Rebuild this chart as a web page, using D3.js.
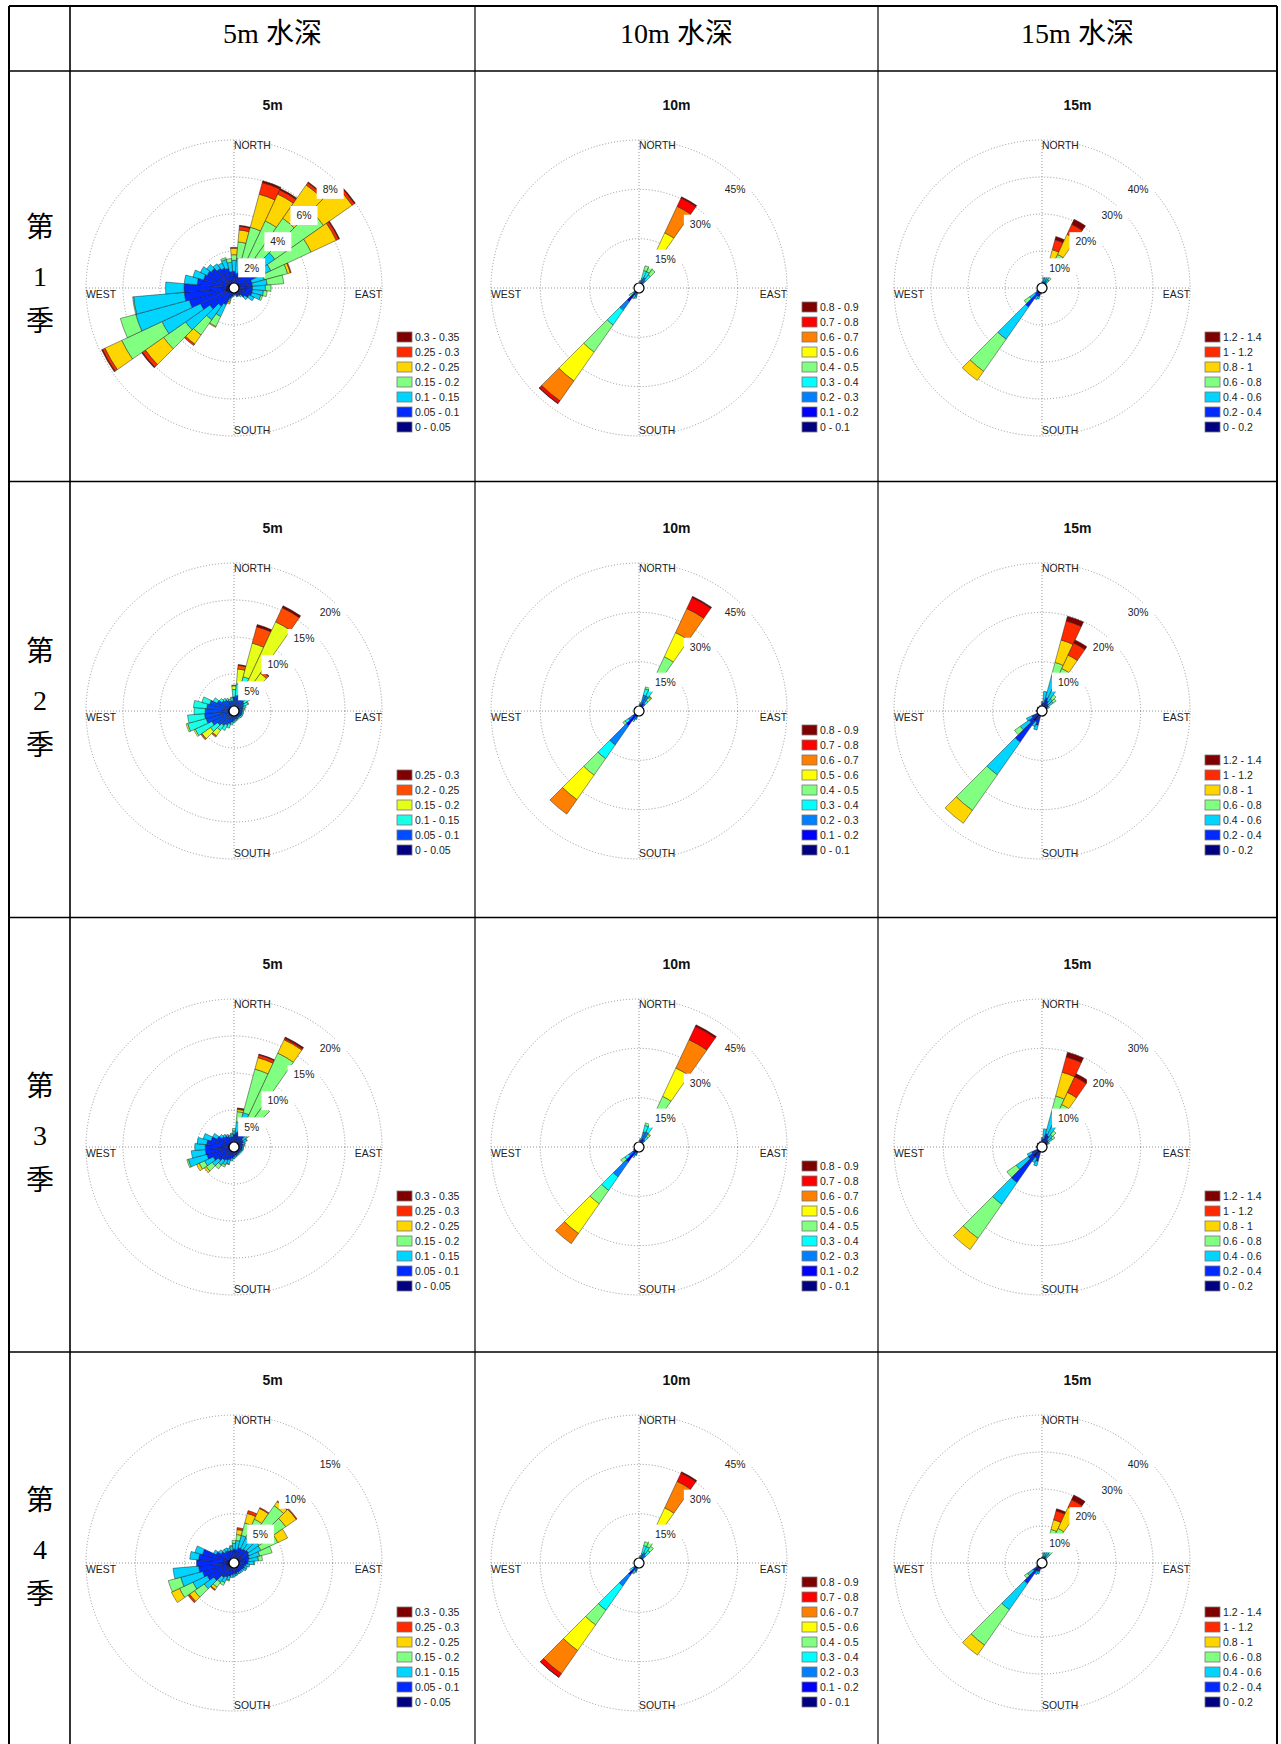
<!DOCTYPE html>
<html lang="zh">
<head>
<meta charset="UTF-8">
<title>各季各水深流况玫瑰图</title>
<script src="https://cdn.jsdelivr.net/npm/d3@7"></script>
<style>
  body { margin: 0; background: #fff; }
  svg { display: block; }
  .head { font-family: "Liberation Serif", "Noto Sans CJK SC", serif; font-size: 28px; fill: #000; }
  .title { font-family: "Liberation Sans", Arial, sans-serif; font-size: 14px; font-weight: bold; fill: #111; }
  .compass, .ringlab { font-family: "Liberation Sans", Arial, sans-serif; font-size: 10.4px; fill: #222; }
  .legend text { font-family: "Liberation Sans", Arial, sans-serif; font-size: 10.5px; fill: #222; }
</style>
</head>
<body>
<svg id="chart" width="1281" height="1744"></svg>
<script>
// ---- data ----
const columnHeads = ["5m 水深", "10m 水深", "15m 水深"];
const depthTitles = ["5m", "10m", "15m"];
const seasonNums = ["1", "2", "3", "4"];

const bins5m = ["0 - 0.05", "0.05 - 0.1", "0.1 - 0.15", "0.15 - 0.2", "0.2 - 0.25", "0.25 - 0.3", "0.3 - 0.35"];
const bins5mS2 = ["0 - 0.05", "0.05 - 0.1", "0.1 - 0.15", "0.15 - 0.2", "0.2 - 0.25", "0.25 - 0.3"];
const bins10m = ["0 - 0.1", "0.1 - 0.2", "0.2 - 0.3", "0.3 - 0.4", "0.4 - 0.5", "0.5 - 0.6", "0.6 - 0.7", "0.7 - 0.8", "0.8 - 0.9"];
const bins15m = ["0 - 0.2", "0.2 - 0.4", "0.4 - 0.6", "0.6 - 0.8", "0.8 - 1", "1 - 1.2", "1.2 - 1.4"];

// ring ticks (%), last one is the outer circle
const ticks = [
  [[2, 4, 6, 8], [15, 30, 45], [10, 20, 30, 40]],
  [[5, 10, 15, 20], [15, 30, 45], [10, 20, 30]],
  [[5, 10, 15, 20], [15, 30, 45], [10, 20, 30]],
  [[5, 10, 15], [15, 30, 45], [10, 20, 30, 40]]
];

// [direction (deg), frequency % of each speed class, lowest class first]
const s1_5m = [
  [0, .25, .65, .6, .3, .35, .05], [10, .2, .6, .8, .9, .65, .2, .05], [20, .2, .6, .7, 1.9, 1.85, .65, .1],
  [30, .2, .6, .9, 2.3, 1.6, .25, .08], [40, .25, .75, 1.0, 2.6, 2.2, .15, .05], [50, .35, 1.25, 1.1, 3.2, 1.9, .15, .05],
  [60, .3, 1.0, .9, 2.4, 1.5, .15, .05], [70, .25, .75, .7, 1.3, .15, .05], [80, .25, .75, .8, .9],
  [90, .25, .75, .7, .3], [100, .25, .75, .6, .2], [110, .25, .75, .5, .1], [120, .25, .65, .3], [130, .2, .5, .2],
  [140, .2, .3, .1], [150, .15, .3, .05], [160, .15, .3, .05], [170, .15, .2, .05], [180, .15, .2, .05],
  [190, .15, .3, .05], [200, .2, .4, .1, .1, .1], [210, .25, .75, .7, .6, .05], [220, .3, .9, .9, 1.0, .6, .1],
  [230, .35, 1.25, 1.6, 1.45, 1.2, .2, .05], [240, .4, 1.6, 2.3, 2.4, 1.0, .15, .05], [250, .45, 2.05, 3.0, .86],
  [260, .45, 2.25, 2.75, .05], [270, .45, 2.25, 1.0], [280, .4, 1.6, .7], [290, .35, 1.35, .6], [300, .35, 1.25, .4],
  [310, .35, 1.15, .3], [320, .3, 1.0, .3], [330, .3, .9, .3], [340, .3, .8, .5, .1], [350, .25, .65, .5, .2]
];
const s1_10m = [
  [0, .3, .4, .3], [10, .3, .6, .8, .6], [20, .3, 1.0, 1.7, 2.5, 1.5], [30, .5, 1.2, 1.8, 2.0, 7.0, 6.0, 8.9, 2.8, .4],
  [40, .4, 1.0, 1.5, 2.0, 2.0], [50, .3, .5, .4], [70, .2, .3], [110, .2, .2], [150, .2, .3], [180, .3, .4, .2],
  [190, .3, .6, .5], [200, .4, 1.0, 1.4, .5], [210, .5, 1.0, 1.0, .8, .4],
  [220, 1.5, 3.6, 3.2, 5.4, 10.1, 10.7, 7.4, 1.0, .1], [230, .5, .8, .9, .7, .8], [240, .3, .5, .3],
  [270, .2, .3], [300, .2, .3], [330, .2, .3]
];
const s1_15m = [
  [0, .6, .6, .3], [10, .6, 1.0, 1.2, .5], [20, .5, 1.2, 2.0, 3.5, 3.5, 2.8, .9], [30, .6, 1.4, 2.5, 5.5, 6.0, 3.0, 1.5],
  [40, .5, 1.0, 1.2, .8], [50, .5, .6, .4], [70, .5, .5], [100, .5, .4], [130, .5, .4], [160, .5, .4],
  [190, .5, .8, .4], [200, .8, 1.5, .8], [210, 1.0, 1.5, 1.0], [220, 2.0, 4.3, 10.6, 10.6, 3.0],
  [230, .8, 1.5, 1.8, 1.8], [240, .6, .8, .3], [270, .5, .5], [300, .5, .5], [330, .5, .5]
];
const s2_5m = [
  [0, .4, 1.5, 1.0, .5, .1], [10, .45, 1.65, 1.6, 2.0, .5, .1], [20, .45, 1.85, 2.5, 4.7, 2.3, .3],
  [30, .45, 1.75, 1.8, 9.3, 2.1, .3], [40, .4, 1.5, 1.5, 2.8, .4, .1], [50, .4, 1.3, .8, .2, .1], [60, .35, 1.15, .6, .1],
  [70, .3, 1.0, .4], [80, .3, .9, .3], [90, .3, .8, .2], [100, .3, .8, .2], [110, .3, .8, .2], [120, .3, .8, .2],
  [130, .3, .8, .2], [140, .3, .7, .2], [150, .3, .7, .2], [160, .3, .8, .2], [170, .3, .8, .3], [180, .35, .95, .3],
  [190, .4, 1.1, .4], [200, .45, 1.35, .6], [210, .5, 1.6, .8], [220, .55, 1.85, .8, .9, .2], [230, .6, 2.1, 1.2, 1.4, .2],
  [240, .7, 2.6, 2.5, .2], [250, .8, 3.1, 2.6, .2], [260, .8, 3.2, 2.3], [270, .8, 3.1, 1.5], [280, .8, 2.9, 1.8],
  [290, .75, 2.65, 1.1], [300, .65, 1.85, .6], [310, .55, 1.45, .4], [320, .5, 1.3, .3], [330, .45, 1.15, .3],
  [340, .4, 1.0, .3], [350, .4, 1.0, .4, .1]
];
const s2_10m = [
  [0, .3, .5, .3], [10, .3, .8, 1.0, .5], [20, .5, 1.5, 3.0, 2.0, .6], [30, .8, 1.8, 2.4, 3.5, 9.7, 8.1, 8.1, 3.7, .4],
  [40, .5, 1.0, 1.2, 1.2, 1.0, .4, .2], [50, .3, .5, .3], [90, .2, .3], [140, .2, .3], [180, .3, .5],
  [200, .5, 1.2, 1.0], [210, .6, 1.2, 1.2, .6], [220, 1.5, 4.0, 7.1, 5.1, 6.1, 9.1, 5.4],
  [230, 1.0, 1.5, 1.5, 1.2, .8], [240, .4, .6, .4], [270, .2, .3], [320, .2, .3]
];
const s2_15m = [
  [0, .6, .8, .5], [10, .5, 1.2, 2.3], [20, .8, 2.0, 4.5, 2.9, 4.7, 4.0, 1.0], [30, .7, 1.6, 2.5, 4.7, 3.0, 2.7, .7],
  [40, .6, 1.2, 1.2, 1.0], [50, .6, 1.0, 1.2, .7], [60, .5, .8, .4], [90, .5, .5], [130, .5, .5], [170, .5, .6],
  [200, 1.0, 2.0, 1.0], [210, 1.0, 1.5, 1.0], [220, 2.5, 5.2, 8.1, 8.8, 3.2], [230, 1.2, 2.0, 2.2, 1.4],
  [240, .8, 1.5, 1.2], [270, .6, .6], [310, .6, .6], [340, .6, .6]
];
const s3_5m = [
  [0, .4, 1.3, .5, .3], [10, .45, 1.55, 1.4, 1.4, .3, .15, .05], [20, .45, 1.65, 2.7, 6.1, 1.6, .4, .1],
  [30, .4, 1.5, 1.8, 10.3, 2.0, .2, .2], [40, .4, 1.5, 1.5, 3.4], [50, .35, 1.15, .7, .2, .2], [60, .35, 1.05, .5, .1],
  [70, .3, .9, .4], [80, .3, .9, .3], [90, .3, .8, .2], [100, .3, .8, .2], [110, .3, .8, .2], [120, .3, .7, .2],
  [130, .3, .7, .2], [140, .3, .7, .2], [150, .3, .7, .2], [160, .3, .8, .2], [170, .3, .8, .3], [180, .35, .95, .3],
  [190, .4, 1.1, .4], [200, .45, 1.35, .6, .1], [210, .5, 1.5, .7, .3], [220, .55, 1.65, .8, .6],
  [230, .6, 2.0, 1.0, 1.0, .3], [240, .7, 2.4, 1.3, .8, .4], [250, .8, 3.0, 2.6, .2], [260, .8, 3.1, 1.9],
  [270, .8, 3.1, 1.4], [280, .8, 2.9, 1.3], [290, .7, 2.5, 1.1], [300, .65, 1.85, .7], [310, .55, 1.45, .4],
  [320, .5, 1.3, .3], [330, .45, 1.15, .3], [340, .4, 1.0, .3], [350, .4, 1.0, .4, .1]
];
const s3_10m = [
  [0, .3, .5, .3], [10, .3, .8, 1.0, .5], [20, .5, 1.5, 2.8, 2.0, .8], [30, .8, 1.8, 2.4, 3.5, 8.5, 9.5, 9.5, 4.5, .5],
  [40, .5, 1.0, 1.2, 1.2, .8, .3], [50, .3, .5, .3], [90, .2, .3], [140, .2, .3], [180, .3, .5],
  [200, .5, 1.2, 1.0], [210, .6, 1.2, 1.2, .6], [220, 2.0, 3.6, 5.5, 5.0, 5.0, 11.0, 3.8],
  [230, .8, 1.5, 1.5, 1.5, 1.5], [240, .4, .7, .5, .3], [270, .2, .3], [320, .2, .3]
];
const s3_15m = [
  [0, .6, .8, .5], [10, .5, 1.2, 2.0], [20, .8, 2.0, 4.4, 3.5, 5.0, 3.2, 1.0], [30, .8, 1.7, 2.5, 4.5, 2.7, 3.5, .7],
  [40, .6, 1.2, 1.2, 1.0], [50, .6, 1.0, 1.0, .6], [60, .5, .8, .4], [90, .5, .5], [130, .5, .5], [170, .5, .6],
  [200, 1.0, 2.0, 1.0], [210, 1.0, 1.5, 1.0], [220, 2.5, 6.3, 5.4, 8.4, 2.8], [230, 1.2, 2.2, 3.0, 2.3],
  [240, .8, 1.5, 1.0], [270, .6, .6], [310, .6, .6], [340, .6, .6]
];
const s4_5m = [
  [0, .35, 1.05, .6, .3], [10, .35, 1.05, .9, .6, .5, .2], [20, .4, 1.2, 1.3, 1.3, 1.0, .3], [30, .4, 1.2, 1.2, 2.1, 1.2, .1],
  [40, .4, 1.3, 1.3, 4.1, .5, .1], [50, .45, 1.35, 1.3, 3.3, 1.3, .1], [60, .4, 1.3, 1.3, 1.9, 1.1], [70, .4, 1.2, 1.1, 1.3],
  [80, .35, 1.15, 1.0, .4], [90, .35, 1.05, .6, .1], [100, .3, .9, .4], [110, .3, .8, .3], [120, .3, .8, .3], [130, .3, .7, .2],
  [140, .3, .7, .2], [150, .3, .7, .2], [160, .3, .7, .2], [170, .3, .8, .2], [180, .3, .8, .3], [190, .3, .9, .3],
  [200, .35, 1.05, .4, .1], [210, .4, 1.2, .6, .3], [220, .45, 1.35, .6, .6, .3, .1], [230, .55, 1.95, 1.2, 1.2, .6, .2],
  [240, .65, 2.35, 1.6, 1.5, .9], [250, .7, 2.6, 2.3, 1.3], [260, .75, 2.85, 2.6], [270, .8, 3.0], [280, .75, 2.85, .9],
  [290, .7, 2.6, .8], [300, .55, 1.45, .3], [310, .45, 1.15, .3], [320, .4, 1.0, .3], [330, .4, 1.0, .3],
  [340, .35, .95, .3], [350, .35, .95, .4, .1]
];
const s4_10m = [
  [0, .3, .4, .3], [10, .3, .6, .8, .6], [20, .3, 1.0, 1.7, 2.5, 1.2], [30, .5, 1.2, 1.8, 2.0, 7.0, 6.0, 8.9, 2.8, .4],
  [40, .4, 1.0, 1.5, 1.8, 1.5], [50, .3, .5, .3], [90, .2, .3], [150, .2, .3], [180, .3, .4, .2],
  [200, .4, 1.0, 1.2, .4], [210, .5, 1.0, 1.0, .8, .4], [220, 1.5, 3.0, 4.0, 9.0, 5.5, 9.5, 8.6, 1.3, .1],
  [230, .5, .8, .9, .7, .6], [240, .3, .5, .3], [270, .2, .3], [330, .2, .3]
];
const s4_15m = [
  [0, .6, .6, .3], [10, .6, 1.0, 1.0, .4], [20, .6, 1.3, 2.2, 5.3, 2.7, 2.5, .6], [30, .6, 1.4, 2.3, 6.0, 6.3, 2.3, 1.4],
  [40, .5, 1.0, 1.5, 1.0], [50, .5, .6, .4], [70, .5, .5], [100, .5, .4], [130, .5, .4], [160, .5, .4],
  [190, .5, .8, .4], [200, .8, 1.5, .8], [210, 1.0, 1.5, 1.0], [220, 2.5, 4.3, 8.6, 11.7, 3.3],
  [230, 1.2, 1.8, 1.8, 1.0], [240, .6, .8, .3], [270, .5, .5], [300, .5, .5], [330, .5, .5]
];

const roseData = [
  [s1_5m, s1_10m, s1_15m],
  [s2_5m, s2_10m, s2_15m],
  [s3_5m, s3_10m, s3_15m],
  [s4_5m, s4_10m, s4_15m]
];
const legendBins = [
  [bins5m, bins10m, bins15m],
  [bins5mS2, bins10m, bins15m],
  [bins5m, bins10m, bins15m],
  [bins5m, bins10m, bins15m]
];

// ---- layout ----
const svg = d3.select("#chart");
const colEdges = [9, 70, 475, 878, 1277];
const rowEdges = [6, 71, 481.5, 917.5, 1352, 1746];
const roseY = [288, 711, 1147, 1563];
const R = 148;

// MATLAB style jet colours
function jet(t) {
  const c = v => Math.max(0, Math.min(1, v)) * 255;
  return d3.rgb(c(1.5 - Math.abs(4 * t - 3)), c(1.5 - Math.abs(4 * t - 2)), c(1.5 - Math.abs(4 * t - 1))).formatHex();
}

// table frame
const frame = svg.append("g").attr("stroke", "#000").attr("fill", "none");
rowEdges.slice(0, 5).forEach((y, i) => {
  frame.append("line").attr("x1", colEdges[0]).attr("x2", colEdges[4]).attr("y1", y).attr("y2", y)
    .attr("stroke-width", i === 0 ? 2 : 1.5);
});
colEdges.forEach((x, i) => {
  frame.append("line").attr("x1", x).attr("x2", x).attr("y1", rowEdges[0]).attr("y2", 1744)
    .attr("stroke-width", (i === 0 || i === 4) ? 2 : (i === 1 ? 1.6 : 1.2));
});

// column heads
columnHeads.forEach((h, i) => {
  svg.append("text").attr("class", "head")
    .attr("x", (colEdges[i + 1] + colEdges[i + 2]) / 2).attr("y", 43)
    .attr("text-anchor", "middle").text(h);
});

// season labels
seasonNums.forEach((n, i) => {
  const yc = (rowEdges[i + 1] + rowEdges[i + 2]) / 2;
  [["第", -49], [n, 0], ["季", 45]].forEach(([ch, dy]) => {
    svg.append("text").attr("class", "head")
      .attr("x", 40).attr("y", yc + dy + 10)
      .attr("text-anchor", "middle").text(ch);
  });
});

const arc = d3.arc();
const rad = Math.PI / 180;

roseData.forEach((rowSets, ri) => {
  rowSets.forEach((data, ci) => {
    const cx = colEdges[ci + 1] + 164;
    const cy = roseY[ri];
    const midX = (colEdges[ci + 1] + colEdges[ci + 2]) / 2;
    const tk = ticks[ri][ci];
    const bins = legendBins[ri][ci];
    const colors = bins.map((b, i) => jet(i / (bins.length - 1)));
    const r = d3.scaleLinear().domain([0, tk[tk.length - 1]]).range([0, R]);

    const g = svg.append("g").attr("transform", `translate(${cx},${cy})`);

    // dotted grid
    const gridG = g.append("g").attr("fill", "none").attr("stroke", "#8a8a8a")
      .attr("stroke-width", 0.9).attr("stroke-dasharray", "1 2");
    gridG.selectAll("circle").data(tk).join("circle").attr("r", d => r(d));
    gridG.append("line").attr("x1", -R).attr("x2", R).attr("y1", 0).attr("y2", 0);
    gridG.append("line").attr("x1", 0).attr("x2", 0).attr("y1", -R).attr("y2", R);

    // stacked wedges
    const segs = [];
    data.forEach(row => {
      const dir = row[0];
      let acc = 0;
      row.slice(1).forEach((v, k) => {
        if (v > 0) segs.push({ dir, k, r0: acc, r1: acc + v });
        acc += v;
      });
    });
    g.append("g").selectAll("path").data(segs).join("path")
      .attr("d", s => arc({
        innerRadius: r(s.r0), outerRadius: r(s.r1),
        startAngle: (s.dir - 5) * rad, endAngle: (s.dir + 5) * rad
      }))
      .attr("fill", s => colors[s.k])
      .attr("stroke", "#1a1a1a").attr("stroke-width", 0.45);

    // centre hole
    g.append("circle").attr("r", 5).attr("fill", "#fff").attr("stroke", "#000").attr("stroke-width", 1.2);

    // ring labels along 45 deg
    tk.forEach(t => {
      const p = r(t) / Math.SQRT2;
      const lx = p - 8.5, ly = -p + 6;
      const lg = g.append("g");
      const rect = lg.append("rect").attr("fill", "#fff");
      const txt = lg.append("text").attr("class", "ringlab")
        .attr("x", lx).attr("y", ly + 3.7).attr("text-anchor", "middle").text(t + "%");
      const w = txt.node().getComputedTextLength() + 12;
      rect.attr("x", lx - w / 2).attr("y", ly - 9.5).attr("width", w).attr("height", 19);
    });

    // compass words
    const comp = [
      ["NORTH", 0, -R + 5, "start"],
      ["SOUTH", 0, R - 6, "start"],
      ["WEST", -R, 6, "start"],
      ["EAST", R, 6, "end"]
    ];
    comp.forEach(([label, x, y, anchor]) => {
      g.append("text").attr("class", "compass").attr("x", x).attr("y", y + 3.7)
        .attr("text-anchor", anchor).text(label);
    });

    // title
    svg.append("text").attr("class", "title").attr("x", midX).attr("y", cy - 183 + 5)
      .attr("text-anchor", "middle").text(depthTitles[ci]);

    // legend, highest class on top, bottom entry fixed
    const lg = svg.append("g").attr("class", "legend");
    bins.forEach((b, k) => {
      const yc = cy + 139 - k * 15;
      lg.append("rect").attr("x", cx + 163).attr("y", yc - 5).attr("width", 15).attr("height", 10)
        .attr("fill", colors[k]).attr("stroke", "#777").attr("stroke-width", 0.8);
      lg.append("text").attr("x", cx + 181).attr("y", yc + 3.8).text(b);
    });
  });
});
</script>
</body>
</html>
